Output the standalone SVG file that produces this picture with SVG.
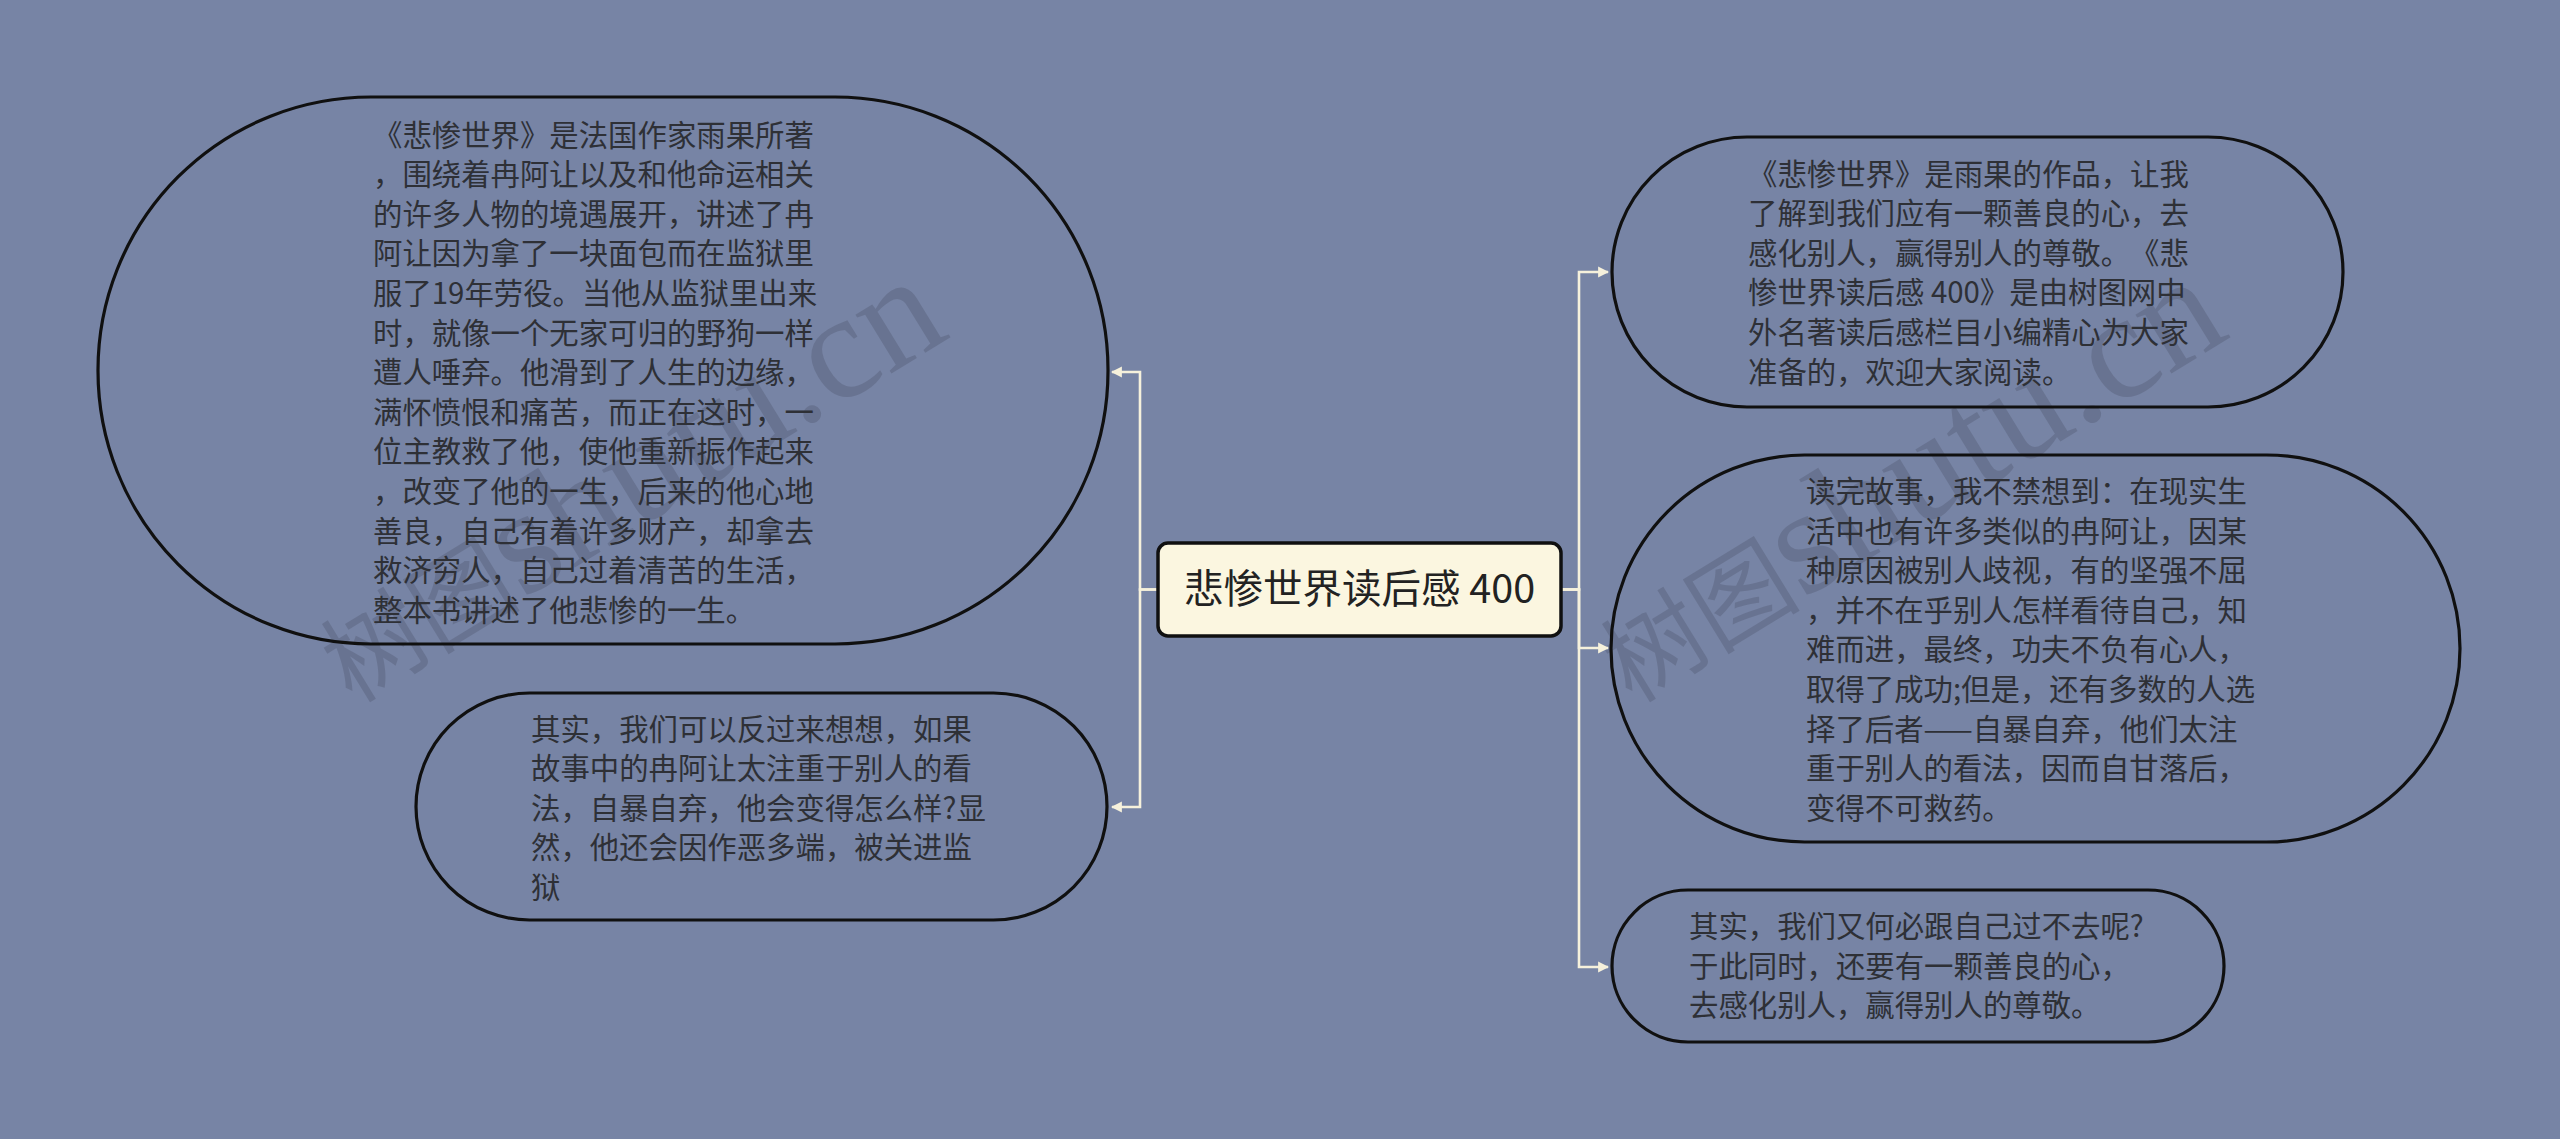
<svg xmlns="http://www.w3.org/2000/svg" width="2560" height="1139" viewBox="0 0 2560 1139">
<defs>
<style>
.bg{fill:#7784a5}
.node{fill:none;stroke:#101010;stroke-width:3.2}
.root{fill:#fbf6e0;stroke:#101010;stroke-width:3.5}
.t{font-family:"Noto Sans CJK SC","Noto Sans",sans-serif;font-size:29.4px;fill:#2e3036;text-spacing-trim:space-all;font-kerning:none}
.rt{font-family:"Noto Sans CJK SC","Noto Sans",sans-serif;font-size:39.5px;fill:#222222}
.edge{fill:none;stroke:#f6f1dc;stroke-width:2.6}
.wm{font-family:"Liberation Serif","Noto Sans CJK SC",serif;fill:#4a5266;fill-opacity:0.32}
</style>
<marker id="arr" viewBox="0 0 10 10" refX="9" refY="5" markerWidth="11" markerHeight="12" markerUnits="userSpaceOnUse" orient="auto">
<path d="M0,0 L10,5 L0,10 Z" fill="#f6f1dc"/>
</marker>
</defs>
<rect class="bg" x="0" y="0" width="2560" height="1139"/>
<g id="watermarks">
<text class="wm" transform="translate(352,704) rotate(-31.5)"><tspan font-size="100">树图</tspan><tspan font-size="150">shutu.cn</tspan></text>
<text class="wm" transform="translate(1632,704) rotate(-31.5)"><tspan font-size="100">树图</tspan><tspan font-size="150">shutu.cn</tspan></text>
</g>
<g id="connectors">
<path class="edge" d="M1158,589.5 H1140 V372 H1112" marker-end="url(#arr)"/>
<path class="edge" d="M1158,589.5 H1140 V807 H1112" marker-end="url(#arr)"/>
<path class="edge" d="M1561,589.5 H1579 V272 H1608" marker-end="url(#arr)"/>
<path class="edge" d="M1561,589.5 H1579 V648 H1608" marker-end="url(#arr)"/>
<path class="edge" d="M1561,589.5 H1579 V967 H1608" marker-end="url(#arr)"/>
</g>
<g id="root">
<rect class="root" x="1158" y="543" width="403" height="93" rx="10"/>
<text class="rt" x="1359.5" y="603" text-anchor="middle">悲惨世界读后感 400</text>
</g>
<g id="node-l1">
<rect class="node" x="98" y="97" width="1010" height="547" rx="273" ry="273"/>
<text class="t">
<tspan x="373" y="145.5">《悲惨世界》是法国作家雨果所著</tspan>
<tspan x="373" y="185.1">，围绕着冉阿让以及和他命运相关</tspan>
<tspan x="373" y="224.7">的许多人物的境遇展开，讲述了冉</tspan>
<tspan x="373" y="264.3">阿让因为拿了一块面包而在监狱里</tspan>
<tspan x="373" y="303.9">服了19年劳役。当他从监狱里出来</tspan>
<tspan x="373" y="343.5">时，就像一个无家可归的野狗一样</tspan>
<tspan x="373" y="383.1">遭人唾弃。他滑到了人生的边缘，</tspan>
<tspan x="373" y="422.7">满怀愤恨和痛苦，而正在这时，一</tspan>
<tspan x="373" y="462.3">位主教救了他，使他重新振作起来</tspan>
<tspan x="373" y="501.9">，改变了他的一生，后来的他心地</tspan>
<tspan x="373" y="541.5">善良，自己有着许多财产，却拿去</tspan>
<tspan x="373" y="581.1">救济穷人，自己过着清苦的生活，</tspan>
<tspan x="373" y="620.7">整本书讲述了他悲惨的一生。</tspan>
</text>
</g>
<g id="node-l2">
<rect class="node" x="416" y="693" width="691" height="227" rx="113.5" ry="113.5"/>
<text class="t">
<tspan x="531" y="739.5">其实，我们可以反过来想想，如果</tspan>
<tspan x="531" y="779.1">故事中的冉阿让太注重于别人的看</tspan>
<tspan x="531" y="818.7">法，自暴自弃，他会变得怎么样?显</tspan>
<tspan x="531" y="858.3">然，他还会因作恶多端，被关进监</tspan>
<tspan x="531" y="897.9">狱</tspan>
</text>
</g>
<g id="node-r1">
<rect class="node" x="1612" y="137" width="731" height="270" rx="135" ry="135"/>
<text class="t">
<tspan x="1748" y="184.5">《悲惨世界》是雨果的作品，让我</tspan>
<tspan x="1748" y="224.1">了解到我们应有一颗善良的心，去</tspan>
<tspan x="1748" y="263.7">感化别人，赢得别人的尊敬。《悲</tspan>
<tspan x="1748" y="303.3">惨世界读后感 400》是由树图网中</tspan>
<tspan x="1748" y="342.9">外名著读后感栏目小编精心为大家</tspan>
<tspan x="1748" y="382.5">准备的，欢迎大家阅读。</tspan>
</text>
</g>
<g id="node-r2">
<rect class="node" x="1611" y="455" width="849" height="387" rx="193.5" ry="193.5"/>
<text class="t">
<tspan x="1806" y="502">读完故事，我不禁想到：在现实生</tspan>
<tspan x="1806" y="541.6">活中也有许多类似的冉阿让，因某</tspan>
<tspan x="1806" y="581.2">种原因被别人歧视，有的坚强不屈</tspan>
<tspan x="1806" y="620.8">，并不在乎别人怎样看待自己，知</tspan>
<tspan x="1806" y="660.4">难而进，最终，功夫不负有心人，</tspan>
<tspan x="1806" y="700">取得了成功;但是，还有多数的人选</tspan>
<tspan x="1806" y="739.6">择了后者——自暴自弃，他们太注</tspan>
<tspan x="1806" y="779.2">重于别人的看法，因而自甘落后，</tspan>
<tspan x="1806" y="818.8">变得不可救药。</tspan>
</text>
</g>
<g id="node-r3">
<rect class="node" x="1612" y="890" width="612" height="152" rx="76" ry="76"/>
<text class="t">
<tspan x="1689" y="937">其实，我们又何必跟自己过不去呢?</tspan>
<tspan x="1689" y="976.6">于此同时，还要有一颗善良的心，</tspan>
<tspan x="1689" y="1016.2">去感化别人，赢得别人的尊敬。</tspan>
</text>
</g>
</svg>
